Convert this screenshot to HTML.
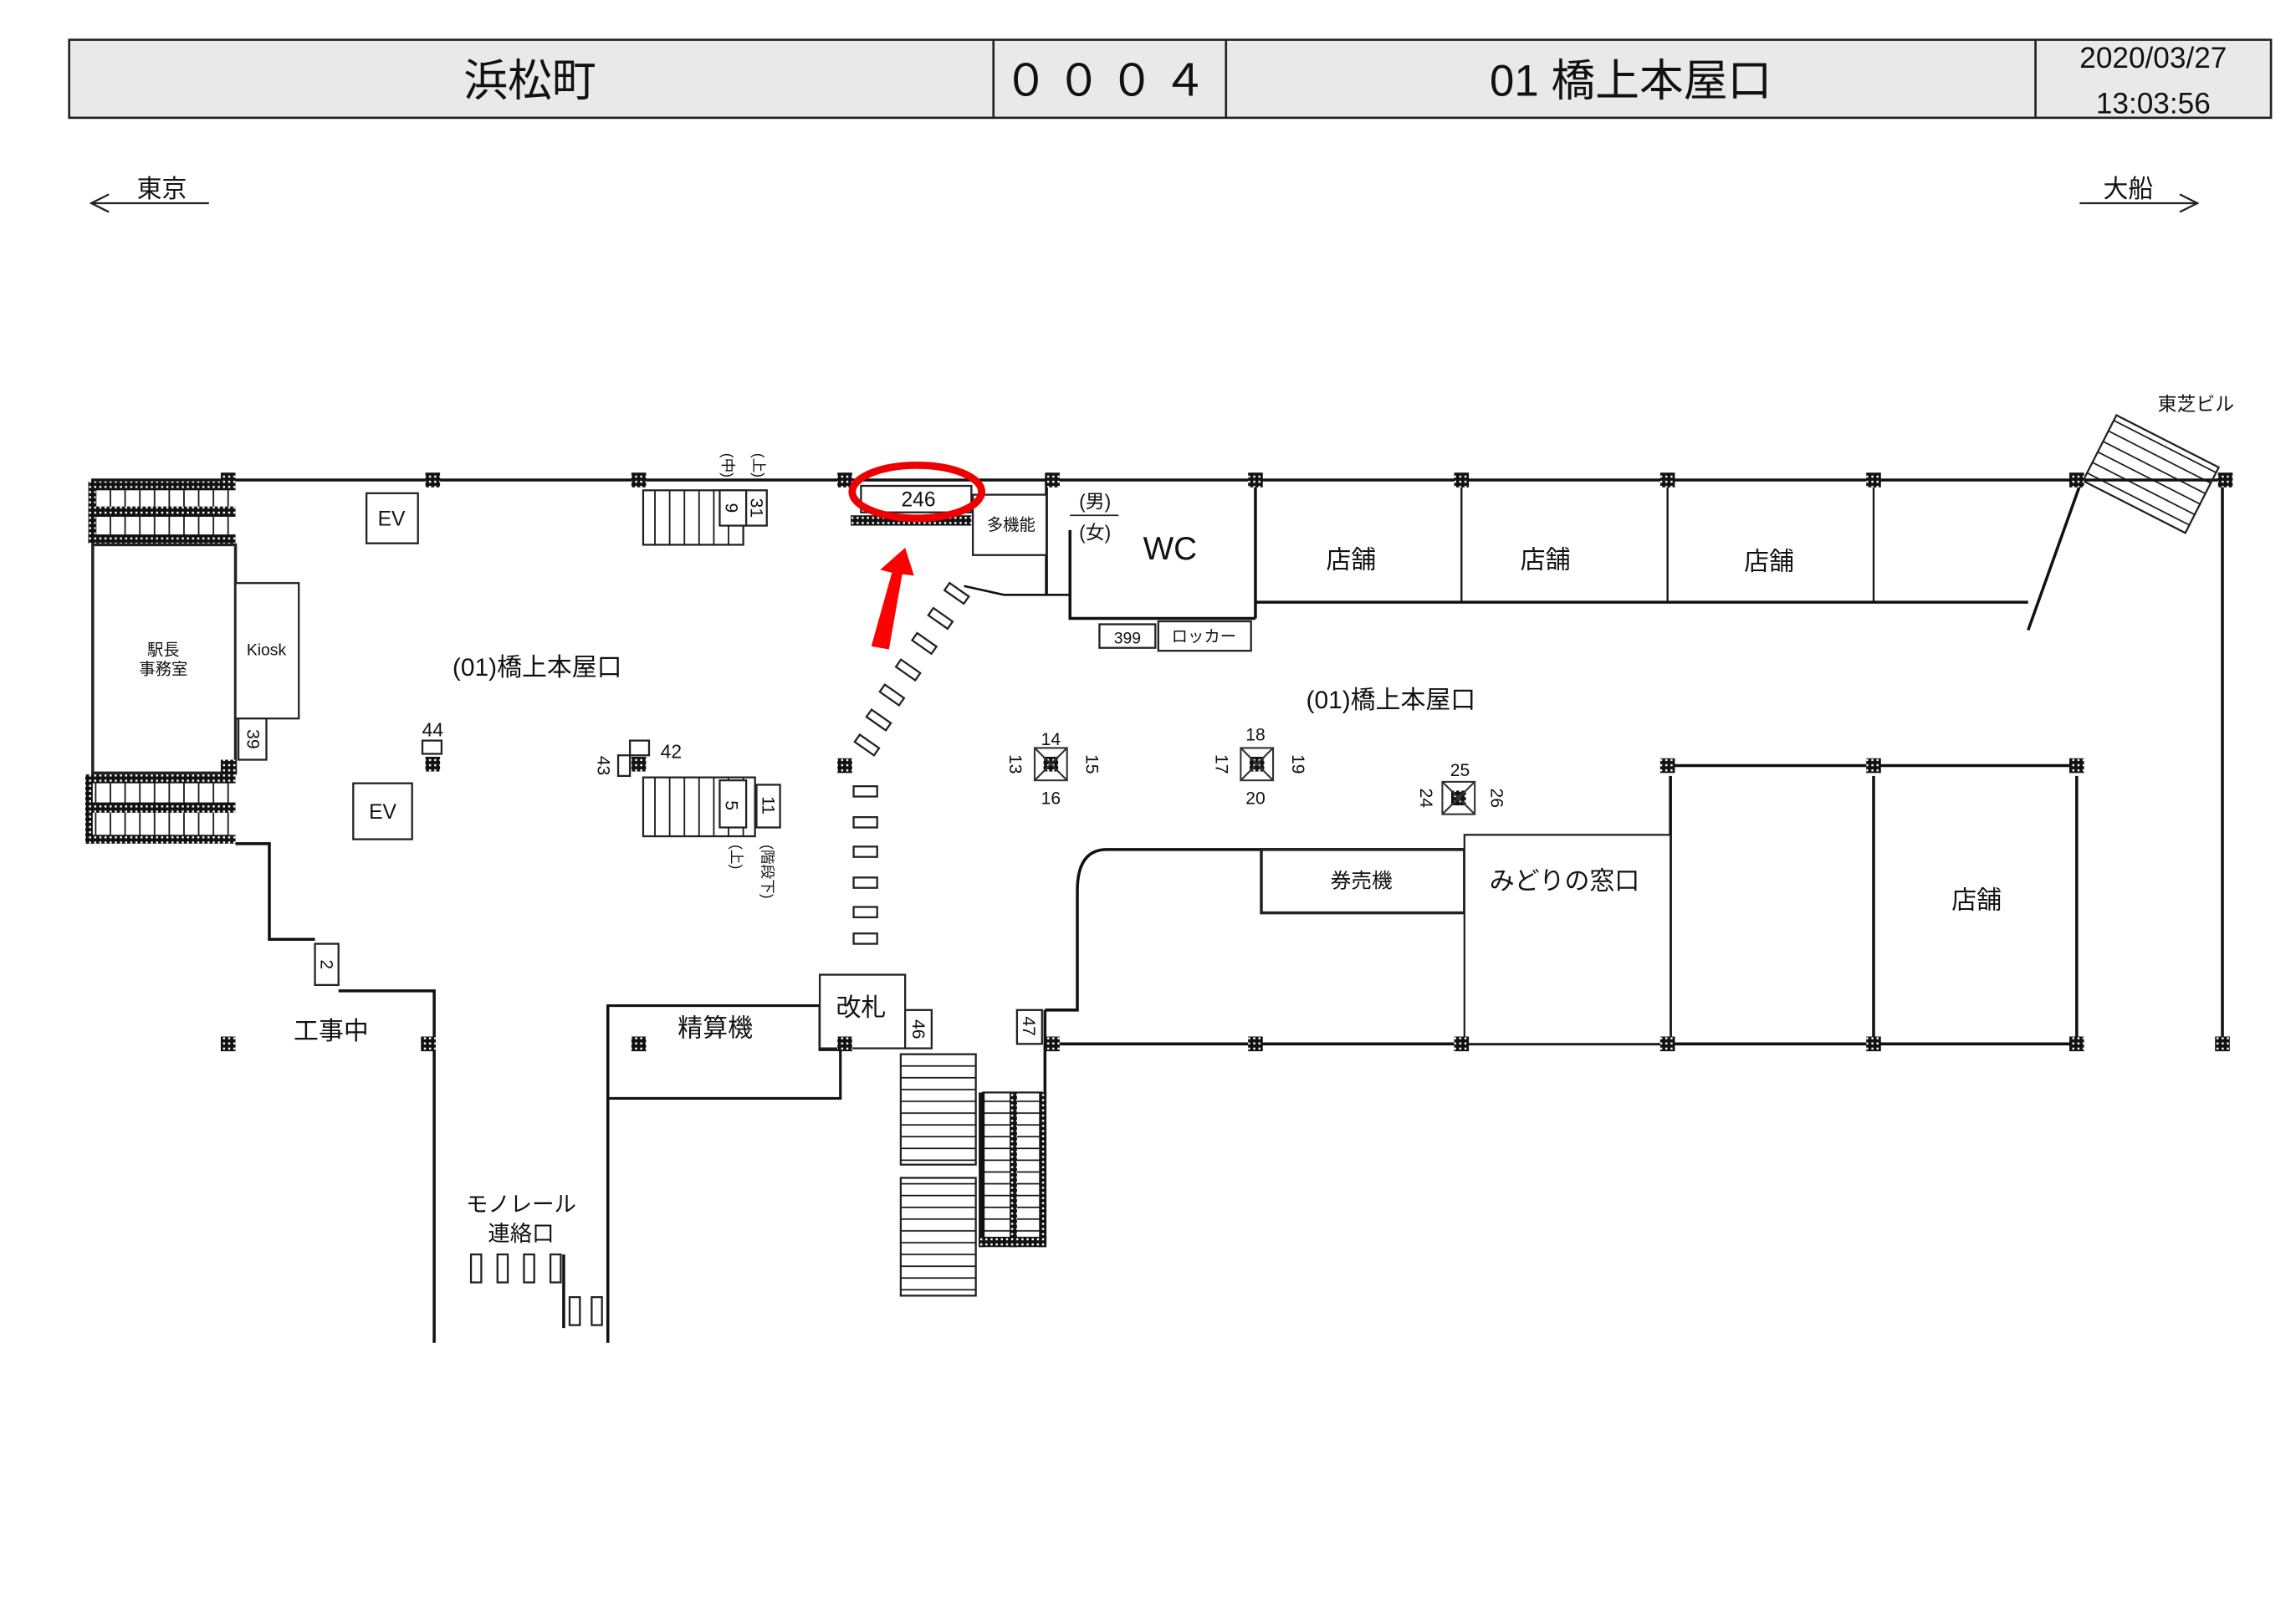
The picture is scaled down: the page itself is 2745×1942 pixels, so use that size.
<!DOCTYPE html>
<html><head><meta charset="utf-8"><style>html,body{margin:0;padding:0;background:#fff}svg{display:block}text{font-family:"Liberation Sans","Noto Sans CJK JP",sans-serif;fill:#111}</style></head><body>
<svg width="2745" height="1942" viewBox="0 0 1560 1103" preserveAspectRatio="none" xmlns="http://www.w3.org/2000/svg">
<defs>
<pattern id="h" width="3.5" height="3.5" patternUnits="userSpaceOnUse"><rect width="3.5" height="3.5" fill="#111"/><rect x="1" y="1" width="1.4" height="1.4" fill="#fff"/></pattern>
<pattern id="st" width="10" height="40" patternUnits="userSpaceOnUse"><line x1="5" y1="0" x2="5" y2="40" stroke="#111" stroke-width="1"/></pattern>
<pattern id="sh" width="40" height="8" patternUnits="userSpaceOnUse"><line x1="0" y1="4" x2="40" y2="4" stroke="#111" stroke-width="1"/></pattern>
</defs>
<rect width="1560" height="1103" fill="#fff"/>
<rect x="47" y="27" width="1496" height="53" fill="#e9e9e9" stroke="#222" stroke-width="1.5"/>
<g stroke="#222" stroke-width="1.5"><line x1="675" y1="27" x2="675" y2="80"/><line x1="833" y1="27" x2="833" y2="80"/><line x1="1383" y1="27" x2="1383" y2="80"/></g>
<text x="360" y="65" font-size="30" text-anchor="middle">浜松町</text>
<text x="754" y="65" font-size="30" text-anchor="middle" letter-spacing="6">０００４</text>
<text x="1108" y="65" font-size="30" text-anchor="middle">01 橋上本屋口</text>
<text x="1463" y="46" font-size="20" text-anchor="middle">2020/03/27</text>
<text x="1463" y="77" font-size="20" text-anchor="middle">13:03:56</text>
<g stroke="#222" stroke-width="1.3" fill="none"><line x1="62" y1="138" x2="142" y2="138"/><polyline points="74,132 62,138 74,144"/><line x1="1413" y1="138" x2="1493" y2="138"/><polyline points="1481,132 1493,138 1481,144"/></g>
<text x="110" y="134" font-size="17" text-anchor="middle">東京</text>
<text x="1446" y="134" font-size="17" text-anchor="middle">大船</text>
<text x="1492" y="279" font-size="13" text-anchor="middle">東芝ビル</text>
<g stroke="#111" stroke-width="2" fill="none">
<line x1="62" y1="326" x2="1512" y2="326"/>
<polyline points="160,573 183,573 183,638 214,638"/>
<polyline points="230,673 295,673 295,912"/>
<line x1="413" y1="683" x2="413" y2="912"/>
<polygon points="413,683 557,683 557,713 571,713 571,746 413,746" stroke-width="1.8"/>
<line x1="383" y1="852" x2="383" y2="902"/>
<path d="M710,686 L732,686 L732,605 Q732,577 752,577 L995,577"/>
<line x1="710" y1="686" x2="710" y2="745"/>
<line x1="710" y1="709" x2="1411" y2="709"/>
<line x1="1135" y1="520" x2="1411" y2="520"/>
<line x1="1135" y1="527" x2="1135" y2="709"/>
<line x1="1273" y1="527" x2="1273" y2="709"/>
<line x1="1411" y1="527" x2="1411" y2="709"/>
<line x1="1510" y1="326" x2="1510" y2="709"/>
<line x1="853" y1="409" x2="1378" y2="409"/>
<line x1="1413" y1="330" x2="1378" y2="428"/>
<line x1="853" y1="326" x2="853" y2="420"/>
<line x1="993" y1="326" x2="993" y2="409" stroke-width="1.3"/>
<line x1="1133" y1="326" x2="1133" y2="409" stroke-width="1.3"/>
<line x1="1273" y1="326" x2="1273" y2="409" stroke-width="1.3"/>
<polyline points="727,360 727,420 853,420"/>
<line x1="711" y1="326" x2="711" y2="404"/>
<polyline points="655,398 682,404 727,404" stroke-width="1.5"/>
</g>
<g stroke="#222" stroke-width="1.3" fill="#fff">
<rect x="63" y="370" width="97" height="155" stroke-width="2"/>
<rect x="160" y="396" width="43" height="92"/>
<rect x="162" y="488" width="19" height="28"/>
<rect x="249" y="335" width="35" height="34"/>
<rect x="240" y="532" width="40" height="38"/>
<rect x="214" y="641" width="16" height="28"/>
<rect x="557" y="662" width="58" height="50"/>
<rect x="615" y="686" width="18" height="26"/>
<rect x="691" y="686" width="17" height="23"/>
<rect x="857" y="577" width="138" height="43" stroke-width="2"/>
<rect x="995" y="567" width="140" height="142"/>
<rect x="661" y="336" width="50" height="41"/>
<rect x="747" y="424" width="38" height="16"/>
<rect x="787" y="422" width="63" height="20"/>
<rect x="585" y="330" width="75" height="18"/>
<rect x="287" y="503" width="13" height="9"/>
<rect x="428" y="503" width="13" height="10"/>
<rect x="420" y="513" width="8" height="14"/>
</g>
<line x1="727" y1="350" x2="760" y2="350" stroke="#222" stroke-width="1"/>
<rect x="62" y="330" width="98" height="38" fill="url(#st)"/>
<rect x="60" y="327" width="100" height="6" fill="url(#h)"/><rect x="60" y="344" width="100" height="7" fill="url(#h)"/><rect x="60" y="363" width="100" height="6" fill="url(#h)"/><rect x="60" y="327" width="5" height="42" fill="url(#h)"/>
<rect x="60" y="529" width="100" height="42" fill="url(#st)"/>
<rect x="58" y="526" width="102" height="6" fill="url(#h)"/><rect x="58" y="545" width="102" height="7" fill="url(#h)"/><rect x="58" y="567" width="102" height="6" fill="url(#h)"/><rect x="58" y="526" width="5" height="47" fill="url(#h)"/>
<g stroke="#222" stroke-width="1.3" fill="none">
<rect x="437" y="333" width="68" height="37" fill="url(#st)"/>
<rect x="489" y="333" width="18" height="24" fill="#fff"/><rect x="507" y="333" width="14" height="24" fill="#fff"/>
<rect x="437" y="528" width="76" height="40" fill="url(#st)"/>
<rect x="489" y="530" width="18" height="32" fill="#fff"/><rect x="514" y="533" width="16" height="29" fill="#fff"/>
<rect x="612" y="716" width="51" height="75" fill="url(#sh)"/>
<rect x="612" y="800" width="51" height="80" fill="url(#sh)"/>
<rect x="668" y="742" width="40" height="100" fill="url(#sh)"/>
</g>
<rect x="665" y="742" width="4" height="105" fill="#111"/><rect x="686" y="742" width="5" height="105" fill="url(#h)"/><rect x="706" y="742" width="5" height="105" fill="url(#h)"/><rect x="665" y="840" width="46" height="7" fill="url(#h)"/>
<rect x="578" y="350" width="82" height="7" fill="url(#h)"/>
<g transform="translate(1438,282) rotate(27)"><rect x="0" y="0" width="78" height="50" fill="url(#sh)" stroke="#222" stroke-width="1.3"/></g>
<g fill="url(#h)">
<rect x="150" y="321" width="10" height="10"/><rect x="289" y="321" width="10" height="10"/><rect x="429" y="321" width="10" height="10"/><rect x="569" y="321" width="10" height="10"/><rect x="710" y="321" width="10" height="10"/><rect x="848" y="321" width="10" height="10"/><rect x="988" y="321" width="10" height="10"/><rect x="1128" y="321" width="10" height="10"/><rect x="1268" y="321" width="10" height="10"/><rect x="1406" y="321" width="10" height="10"/><rect x="1507" y="321" width="10" height="10"/>
<rect x="150" y="516" width="10" height="10"/><rect x="289" y="514" width="10" height="10"/><rect x="429" y="514" width="10" height="10"/><rect x="569" y="515" width="10" height="10"/><rect x="1128" y="515" width="10" height="10"/><rect x="1268" y="515" width="10" height="10"/><rect x="1406" y="515" width="10" height="10"/>
<rect x="150" y="704" width="10" height="10"/><rect x="286" y="704" width="10" height="10"/><rect x="429" y="704" width="10" height="10"/><rect x="569" y="704" width="10" height="10"/><rect x="710" y="704" width="10" height="10"/><rect x="848" y="704" width="10" height="10"/><rect x="988" y="704" width="10" height="10"/><rect x="1128" y="704" width="10" height="10"/><rect x="1268" y="704" width="10" height="10"/><rect x="1406" y="704" width="10" height="10"/><rect x="1505" y="704" width="10" height="10"/>
<rect x="709" y="514" width="10" height="10"/><rect x="849" y="514" width="10" height="10"/><rect x="986" y="537" width="10" height="10"/>
</g>
<g stroke="#333" stroke-width="1.2" fill="none">
<rect x="703" y="508" width="22" height="22"/><path d="M703,508 L725,530 M725,508 L703,530"/>
<rect x="843" y="508" width="22" height="22"/><path d="M843,508 L865,530 M865,508 L843,530"/>
<rect x="980" y="531" width="22" height="22"/><path d="M980,531 L1002,553 M1002,531 L980,553"/>
</g>
<g stroke="#222" stroke-width="1.3" fill="#fff">
<g transform="translate(650,403) rotate(-55)"><rect x="-3" y="-8" width="6" height="16"/></g>
<g transform="translate(639,420) rotate(-55)"><rect x="-3" y="-8" width="6" height="16"/></g>
<g transform="translate(628,437) rotate(-55)"><rect x="-3" y="-8" width="6" height="16"/></g>
<g transform="translate(617,455) rotate(-55)"><rect x="-3" y="-8" width="6" height="16"/></g>
<g transform="translate(606,472) rotate(-55)"><rect x="-3" y="-8" width="6" height="16"/></g>
<g transform="translate(597,489) rotate(-55)"><rect x="-3" y="-8" width="6" height="16"/></g>
<g transform="translate(589,506) rotate(-55)"><rect x="-3" y="-8" width="6" height="16"/></g>
<rect x="580" y="534" width="16" height="7"/><rect x="580" y="555" width="16" height="7"/><rect x="580" y="575" width="16" height="7"/><rect x="580" y="596" width="16" height="7"/><rect x="580" y="616" width="16" height="7"/><rect x="580" y="634" width="16" height="7"/>
<rect x="320" y="852" width="7" height="19"/><rect x="338" y="852" width="7" height="19"/><rect x="356" y="852" width="7" height="19"/><rect x="374" y="852" width="7" height="19"/><rect x="387" y="881" width="7" height="19"/><rect x="402" y="881" width="7" height="19"/>
</g>
<ellipse cx="623" cy="334" rx="44" ry="18" fill="none" stroke="#e00" stroke-width="5"/>
<polygon points="592,439 604,441 613,390 621,391 615,372 598,387 606,389" fill="#f00"/>
<g font-size="17" text-anchor="middle">
<text x="918" y="386">店舗</text><text x="1050" y="386">店舗</text><text x="1202" y="387">店舗</text><text x="1343" y="617">店舗</text>
<text x="795" y="380" font-size="22">WC</text>
<text x="365" y="459">(01)橋上本屋口</text><text x="945" y="481">(01)橋上本屋口</text>
<text x="225" y="706">工事中</text><text x="486" y="704">精算機</text><text x="585" y="690">改札</text>
<text x="1063" y="604">みどりの窓口</text><text x="925" y="603" font-size="14">券売機</text>
<text x="354" y="823" font-size="15">モノレール</text><text x="354" y="843" font-size="15">連絡口</text>
<text x="266" y="357" font-size="14">EV</text><text x="260" y="556" font-size="14">EV</text>
</g>
<g font-size="11" text-anchor="middle">
<text x="111" y="445">駅長</text><text x="111" y="458">事務室</text><text x="181" y="445">Kiosk</text>
<text x="687" y="360">多機能</text><text x="766" y="437">399</text><text x="818" y="436">ロッカー</text>
<text x="744" y="345" font-size="13">(男)</text><text x="744" y="366" font-size="13">(女)</text>
<text x="624" y="344" font-size="14">246</text>
<text x="294" y="500" font-size="13">44</text><text x="456" y="515" font-size="13">42</text>
<text x="714" y="506" font-size="12">14</text><text x="714" y="546" font-size="12">16</text>
<text x="853" y="503" font-size="12">18</text><text x="853" y="546" font-size="12">20</text>
<text x="992" y="527" font-size="12">25</text>
</g>
<g font-size="12" text-anchor="middle">
<text transform="translate(168,502) rotate(90)">39</text>
<text transform="translate(218,655) rotate(90)">2</text>
<text transform="translate(620,699) rotate(90)">46</text>
<text transform="translate(695,697) rotate(90)">47</text>
<text transform="translate(493,345) rotate(90)">9</text>
<text transform="translate(510,345) rotate(90)">31</text>
<text transform="translate(493,547) rotate(90)">5</text>
<text transform="translate(518,547) rotate(90)">11</text>
<text transform="translate(406,520) rotate(90)">43</text>
<text transform="translate(686,519) rotate(90)">13</text><text transform="translate(738,519) rotate(90)">15</text>
<text transform="translate(826,519) rotate(90)">17</text><text transform="translate(878,519) rotate(90)">19</text>
<text transform="translate(965,542) rotate(90)">24</text><text transform="translate(1013,542) rotate(90)">26</text>
<text transform="translate(491,316) rotate(90)" font-size="10">(中)</text>
<text transform="translate(512,316) rotate(90)" font-size="10">(上)</text>
<text transform="translate(497,582) rotate(90)" font-size="10">(上)</text>
<text transform="translate(518,592) rotate(90)" font-size="10">(階段下)</text>
</g>
</svg>
</body></html>
